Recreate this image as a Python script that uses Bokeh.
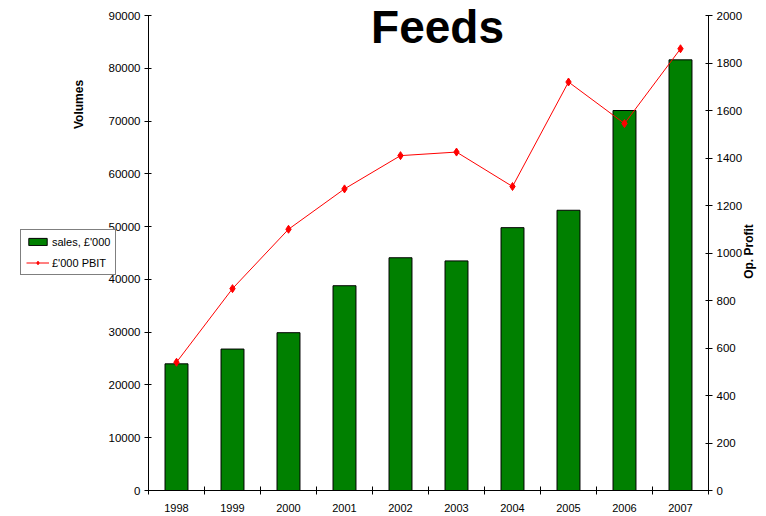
import numpy as np
from bokeh.plotting import figure
from bokeh.models import (ColumnDataSource, Range1d, LinearAxis, FixedTicker,
                          Label, Legend, LegendItem)
from bokeh.embed import file_html
from bokeh.resources import INLINE

years = ["1998", "1999", "2000", "2001", "2002", "2003", "2004", "2005", "2006", "2007"]
sales = [24000, 26800, 29900, 38800, 44100, 43500, 49800, 53100, 72000, 81600]
pbit = [540, 850, 1100, 1270, 1410, 1425, 1280, 1720, 1545, 1860]
left_ticks = [0, 10000, 20000, 30000, 40000, 50000, 60000, 70000, 80000, 90000]
right_ticks = [0, 200, 400, 600, 800, 1000, 1200, 1400, 1600, 1800, 2000]

FONT = "Liberation Sans"
W, H = 760, 514
# axis box (pixels from the canvas top-left)
AX_L, AX_R, AX_T, AX_B = 148, 708, 15, 490
n = len(years)
VMAX, PMAX = 90000, 2000

xpx = (AX_R - AX_L) / n
x0 = -AX_L / xpx
x1 = n + (W - AX_R) / xpx
vpx = VMAX / (AX_B - AX_T)
ppx = PMAX / (AX_B - AX_T)

xpos = np.arange(n) + 0.5
src = ColumnDataSource(dict(x=xpos, year=years, sales=sales, pbit=pbit))

p = figure(width=W, height=H, output_backend="svg", toolbar_location=None,
           x_range=Range1d(x0, x1),
           y_range=Range1d(-(H - AX_B) * vpx, VMAX + AX_T * vpx),
           min_border=0, x_axis_type=None, y_axis_type=None)
p.outline_line_color = None
p.extra_y_ranges = {"profit": Range1d(-(H - AX_B) * ppx, PMAX + AX_T * ppx)}

bars = p.vbar(x="x", top="sales", width=0.41, source=src, fill_color="#008000",
              line_color="black", line_width=1)
ln = p.line(x="x", y="pbit", source=src, color="#FF0000", line_width=1,
            y_range_name="profit")
mk = p.scatter(x="x", y="pbit", source=src, marker="diamond", size=8,
               color="#FF0000", y_range_name="profit")

# x axis: labels at centers, ticks at category boundaries
xa = LinearAxis(fixed_location=0, bounds=(0, n),
                ticker=FixedTicker(ticks=list(xpos), minor_ticks=list(range(n + 1))))
xa.major_label_overrides = {float(v): y for v, y in zip(xpos, years)}
xa.major_tick_in = 0
xa.major_tick_out = 0
xa.minor_tick_in = 4
xa.minor_tick_out = 4
xa.minor_tick_line_color = "black"
xa.major_label_standoff = 9
xa.major_label_text_font = FONT
xa.major_label_text_font_size = "11px"
xa.major_label_text_color = "black"
xa.axis_line_color = "black"
p.add_layout(xa, "below")

ya = LinearAxis(fixed_location=0, bounds=(0, VMAX), ticker=FixedTicker(ticks=left_ticks))
ya.minor_tick_line_color = None
ya.major_tick_in = 3
ya.major_tick_out = 4
ya.major_label_text_font = FONT
ya.major_label_text_font_size = "11.5px"
ya.major_label_text_color = "black"
ya.major_label_standoff = 4
ya.axis_line_color = "black"
p.add_layout(ya, "left")

ra = LinearAxis(fixed_location=n, y_range_name="profit", bounds=(0, PMAX),
                ticker=FixedTicker(ticks=right_ticks))
ra.minor_tick_line_color = None
ra.major_tick_in = 3
ra.major_tick_out = 4
ra.major_label_text_font = FONT
ra.major_label_text_font_size = "11.5px"
ra.major_label_text_color = "black"
ra.major_label_standoff = 4
ra.axis_line_color = "black"
p.add_layout(ra, "right")

p.add_layout(Label(x=437, y=H - 26, x_units="screen", y_units="screen", text="Feeds",
                   text_font=FONT, text_font_size="46px", text_font_style="bold",
                   text_color="black", text_align="center", text_baseline="middle"))
p.add_layout(Label(x=78, y=H - 104, x_units="screen", y_units="screen", text="Volumes",
                   text_font=FONT, text_font_size="12px", text_font_style="bold",
                   text_color="black",
                   angle=np.pi / 2, text_align="center", text_baseline="middle"))
p.add_layout(Label(x=748, y=H - 251, x_units="screen", y_units="screen", text="Op. Profit",
                   text_font=FONT, text_font_size="12px", text_font_style="bold",
                   text_color="black",
                   angle=np.pi / 2, text_align="center", text_baseline="middle"))

legend = Legend(items=[LegendItem(label="sales, £'000", renderers=[bars]),
                       LegendItem(label="£'000 PBIT", renderers=[ln, mk])],
                location=(20, H - 275), border_line_color="black", border_line_width=1,
                label_text_font=FONT, label_text_font_size="11px",
                label_text_color="black",
                glyph_width=23, glyph_height=9, spacing=8, padding=5, margin=0,
                label_standoff=3, label_height=13, background_fill_alpha=1)
p.add_layout(legend, "center")

open("out.html", "w").write(file_html(p, INLINE))
